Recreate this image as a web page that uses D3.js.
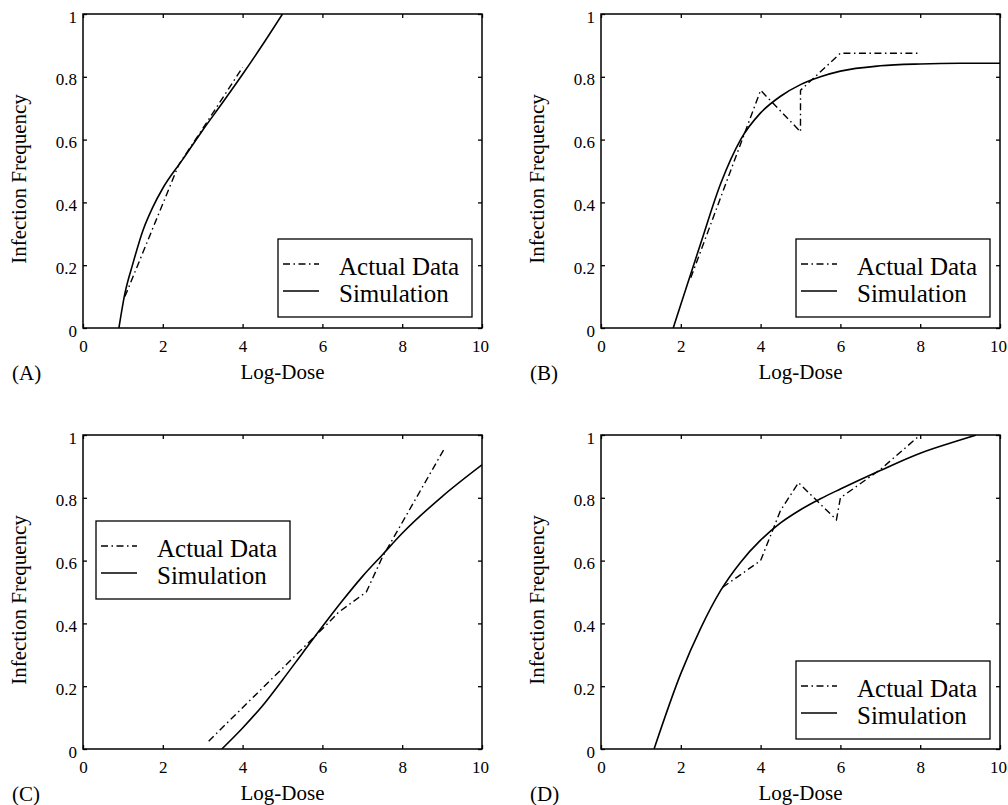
<!DOCTYPE html>
<html>
<head>
<meta charset="utf-8">
<script src="https://cdn.jsdelivr.net/npm/d3@7"></script>
<style>
  body { margin: 0; background: #fff; }
  svg { display: block; font-family: "Liberation Serif", "Times New Roman", serif; }
</style>
</head>
<body>
<svg id="chart" width="1008" height="805"></svg>
<script>
// tick values
var doseTicks = [0, 2, 4, 6, 8, 10];
var freqTicks = [0, 0.2, 0.4, 0.6, 0.8, 1];

var panelNames = ["(A)", "(B)", "(C)", "(D)"];
var seriesNames = ["Actual Data", "Simulation"];

// [log-dose, infection frequency]
var actualA = [[1.05, 0.1], [2.4, 0.52], [3, 0.635], [4, 0.83]];
var simA = [[0.9, 0], [1.05, 0.11], [1.25, 0.205], [1.5, 0.31], [1.75, 0.385], [2, 0.445],
            [2.5, 0.537], [3, 0.63], [3.5, 0.718], [4, 0.808], [4.5, 0.902], [5, 1.0]];

var actualB = [[2.25, 0.16], [4, 0.757], [5, 0.625], [5, 0.757], [6, 0.875], [8, 0.875]];
var simB = [[1.81, 0], [2, 0.075], [2.5, 0.27], [3, 0.46], [3.5, 0.6], [4, 0.685], [4.5, 0.738],
            [5, 0.775], [5.5, 0.8], [6, 0.818], [7, 0.835], [8, 0.841], [9, 0.843], [10, 0.843]];

var actualC = [[3.15, 0.025], [6.1, 0.395], [6.4, 0.435], [7.1, 0.5], [7.5, 0.61], [9.05, 0.955]];
var simC = [[3.48, 0], [4, 0.067], [4.5, 0.138], [5, 0.22], [5.5, 0.305], [6, 0.39], [6.5, 0.472],
            [7, 0.549], [7.5, 0.618], [8, 0.687], [9, 0.804], [10, 0.905]];

var actualD = [[3.05, 0.515], [4, 0.6], [4.5, 0.76], [4.95, 0.848], [5.9, 0.73], [6, 0.8],
               [7, 0.89], [8, 1.0]];
var simD = [[1.33, 0], [2, 0.24], [2.5, 0.385], [3, 0.505], [3.5, 0.595], [4, 0.665], [4.5, 0.72],
            [5, 0.762], [5.5, 0.797], [6, 0.828], [7, 0.887], [8, 0.942], [9, 0.984], [9.4, 1.0]];

var panels = [
    { name: panelNames[0], actual: actualA, sim: simA, left: 83, top: 14, legend: [195, 225] },
    { name: panelNames[1], actual: actualB, sim: simB, left: 601, top: 14, legend: [195, 225] },
    { name: panelNames[2], actual: actualC, sim: simC, left: 83, top: 435, legend: [13, 86] },
    { name: panelNames[3], actual: actualD, sim: simD, left: 601, top: 435, legend: [195, 226] }
];

var plotW = 399, plotH = 314;
var dashDot = "7,3.5,1.5,3.5";

var svg = d3.select("#chart");

svg.append("defs").append("clipPath")
    .attr("id", "plotClip")
    .append("rect")
    .attr("width", plotW)
    .attr("height", plotH);

panels.forEach(function (p) {

    var x = d3.scaleLinear().domain([0, 10]).range([0, plotW]);
    var y = d3.scaleLinear().domain([0, 1]).range([plotH, 0]);

    var g = svg.append("g").attr("transform", "translate(" + p.left + "," + p.top + ")");

    /* axes, ticks pointing inward on all four sides */
    var bottom = g.append("g")
        .attr("class", "axis")
        .attr("transform", "translate(0," + plotH + ")")
        .call(d3.axisBottom(x).tickValues(doseTicks).tickSize(-4).tickFormat(function (d) { return d; }));
    bottom.selectAll("text")
        .attr("y", 24)
        .attr("dy", null)
        .attr("x", function (d) { return d === 10 ? -2 : 0; });

    var left = g.append("g")
        .attr("class", "axis")
        .call(d3.axisLeft(y).tickValues(freqTicks).tickSize(-4).tickFormat(function (d) { return d; }));
    left.selectAll("text").attr("x", -6).attr("y", 8).attr("dy", null);

    g.append("g")
        .attr("class", "axis")
        .call(d3.axisTop(x).tickValues(doseTicks).tickSize(-4).tickFormat(""));
    g.append("g")
        .attr("class", "axis")
        .attr("transform", "translate(" + plotW + ",0)")
        .call(d3.axisRight(y).tickValues(freqTicks).tickSize(-4).tickFormat(""));

    g.selectAll(".axis")
        .attr("font-family", "Liberation Serif, Times New Roman, serif")
        .attr("font-size", 17);
    g.selectAll(".domain").remove();
    g.selectAll(".tick line").attr("stroke", "#000").attr("stroke-width", 1.3);
    g.selectAll(".tick text").attr("fill", "#000");

    g.append("rect")
        .attr("width", plotW)
        .attr("height", plotH)
        .attr("fill", "none")
        .attr("stroke", "#000")
        .attr("stroke-width", 1.5);

    /* curves */
    var plot = g.append("g").attr("clip-path", "url(#plotClip)");

    plot.append("path")
        .datum(p.sim)
        .attr("fill", "none")
        .attr("stroke", "#000")
        .attr("stroke-width", 1.6)
        .attr("d", d3.line()
            .x(function (d) { return x(d[0]); })
            .y(function (d) { return y(d[1]); })
            .curve(d3.curveMonotoneX));

    plot.append("path")
        .datum(p.actual)
        .attr("fill", "none")
        .attr("stroke", "#000")
        .attr("stroke-width", 1.4)
        .attr("stroke-dasharray", dashDot)
        .attr("d", d3.line()
            .x(function (d) { return x(d[0]); })
            .y(function (d) { return y(d[1]); }));

    /* axis titles */
    g.append("text")
        .attr("x", plotW / 2)
        .attr("y", plotH + 51)
        .attr("text-anchor", "middle")
        .style("font-size", "21px")
        .text("Log-Dose");

    g.append("text")
        .attr("transform", "translate(" + (-57) + "," + (plotH / 2 + 8) + ") rotate(-90)")
        .attr("text-anchor", "middle")
        .style("font-size", "21px")
        .text("Infection Frequency");

    g.append("text")
        .attr("x", -71)
        .attr("y", plotH + 52)
        .style("font-size", "21px")
        .text(p.name);

    /* legend */
    var lg = g.append("g").attr("transform", "translate(" + p.legend[0] + "," + p.legend[1] + ")");

    lg.append("rect")
        .attr("width", 194)
        .attr("height", 78)
        .attr("fill", "#fff")
        .attr("stroke", "#000")
        .attr("stroke-width", 1.3);

    seriesNames.forEach(function (s, i) {
        lg.append("line")
            .attr("x1", 5).attr("x2", 41)
            .attr("y1", 25 + i * 27).attr("y2", 25 + i * 27)
            .attr("stroke", "#000")
            .attr("stroke-width", i === 0 ? 1.4 : 1.6)
            .attr("stroke-dasharray", i === 0 ? dashDot : null);
        lg.append("text")
            .attr("x", 61)
            .attr("y", 36 + i * 27)
            .style("font-size", "25px")
            .text(s);
    });
});
</script>
</body>
</html>
